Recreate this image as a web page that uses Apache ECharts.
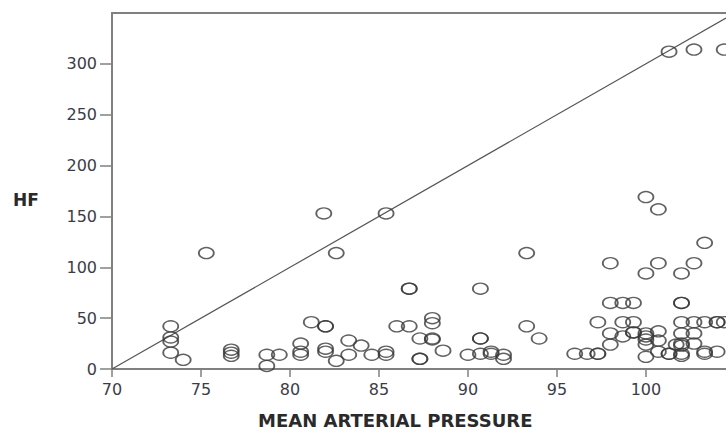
<!DOCTYPE html>
<html>
<head>
<meta charset="utf-8">
<script src="https://cdn.jsdelivr.net/npm/echarts@6/dist/echarts.min.js"></script>
<style>
  html, body { margin: 0; padding: 0; background: #fff; }
  #chart { width: 726px; height: 430px; }
</style>
</head>
<body>
<div id="chart"></div>
<script>
// mean arterial pressure (x) and HF (y)
const mapValues = [
  73.3, 73.3, 73.3, 73.3, 74.0, 75.3, 76.7, 76.7, 76.7, 78.7, 78.7, 79.4,
  80.6, 80.6, 80.6, 81.2, 81.9, 82.0, 82.0, 82.0, 82.0, 82.6, 82.6, 83.3,
  83.3, 84.0, 84.6, 85.4, 85.4, 85.4, 86.0, 86.7, 86.7, 86.7, 87.3, 87.3,
  87.3, 88.0, 88.0, 88.0, 88.0, 88.6, 90.0, 90.7, 90.7, 90.7, 90.7, 91.3,
  91.3, 92.0, 92.0, 93.3, 93.3, 94.0, 96.0, 96.7, 97.3, 97.3, 97.3, 98.0,
  98.0, 98.7, 99.3, 98.7, 99.3, 98.0, 98.0, 98.7, 99.3, 99.3, 100.0, 100.7,
  100.0, 100.7, 100.0, 100.0, 100.0, 100.0, 100.0, 100.7, 100.7, 100.7, 101.3, 101.3,
  101.7, 101.3, 102.0, 102.0, 102.0, 102.0, 102.0, 102.0, 102.0, 102.0, 102.0, 102.7,
  102.7, 102.7, 102.7, 102.7, 103.3, 103.3, 103.3, 103.3, 104.0, 104.0, 104.0, 104.4,
  104.4
];
const hfValues = [
  42, 31, 27, 16, 9, 114, 19, 16, 13, 14, 3, 14,
  25, 17, 14, 46, 153, 42, 42, 20, 17, 114, 8, 28,
  14, 23, 14, 153, 17, 14, 42, 42, 79, 79, 30, 10,
  10, 50, 45, 30, 29, 18, 14, 79, 30, 30, 15, 17,
  15, 14, 10, 114, 42, 30, 15, 15, 15, 15, 46, 104,
  65, 65, 65, 46, 46, 35, 24, 32, 36, 36, 169, 157,
  94, 104, 35, 32, 29, 24, 12, 37, 28, 17, 15, 15,
  24, 312, 65, 65, 94, 46, 35, 25, 23, 15, 13, 104,
  314, 46, 35, 25, 124, 46, 17, 15, 46, 46, 17, 314,
  46
];
// reference line (HF = 10 * (MAP - 70)), clipped at the right edge
const refLineX = [70, 104.5];
const refLineY = [0, 345];

const xTicks = [70, 75, 80, 85, 90, 95, 100];
const yTicks = [0, 50, 100, 150, 200, 250, 300];

let points = [];
for (let i = 0; i < mapValues.length; i++) {
  points.push([mapValues[i], hfValues[i]]);
}
let refLine = [];
for (let i = 0; i < refLineX.length; i++) {
  refLine.push([refLineX[i], refLineY[i]]);
}

const axisGrey = "#808080";
const labelColor = "#3c3c48";
const font = "DejaVu Sans";

let chart = echarts.init(document.getElementById("chart"), null, { renderer: "svg" });
let option = {
  backgroundColor: "#ffffff",
  animation: false,
  grid: { left: 112, right: 0, top: 13, bottom: 61 },
  xAxis: [
    {
      type: "value",
      min: 70,
      max: 104.5,
      interval: 5,
      axisLine: { show: true, lineStyle: { color: axisGrey, width: 2 } },
      axisTick: { show: true, length: 8, lineStyle: { color: axisGrey, width: 1.5 },
        customValues: xTicks },
      axisLabel: { color: labelColor, fontFamily: font, fontSize: 16, margin: 12,
        customValues: xTicks },
      splitLine: { show: false }
    },
    {
      type: "value",
      position: "top",
      min: 70,
      max: 104.5,
      axisLine: { show: true, lineStyle: { color: axisGrey, width: 2 } },
      axisTick: { show: false },
      axisLabel: { show: false },
      splitLine: { show: false }
    }
  ],
  yAxis: {
    type: "value",
    min: 0,
    max: 350,
    interval: 50,
    axisLine: { show: true, lineStyle: { color: axisGrey, width: 2 } },
    axisTick: { show: true, length: 12, lineStyle: { color: axisGrey, width: 1.5 },
      customValues: yTicks },
    axisLabel: { color: labelColor, fontFamily: font, fontSize: 16, margin: 15,
      customValues: yTicks },
    splitLine: { show: false }
  },
  graphic: [
    {
      type: "text",
      left: 13,
      top: 191,
      style: { text: "HF", fill: "#2a2a2a", font: "bold 17px 'DejaVu Sans'" }
    },
    {
      type: "text",
      left: 258,
      top: 411,
      style: { text: "MEAN ARTERIAL PRESSURE", fill: "#2a2a2a", font: "bold 18px 'DejaVu Sans'" }
    }
  ],
  series: [
    {
      type: "line",
      data: refLine,
      symbol: "none",
      lineStyle: { color: "#555555", width: 1.2 },
      z: 1
    },
    {
      type: "scatter",
      data: points,
      symbol: "circle",
      symbolSize: [15, 11],
      itemStyle: { color: "rgba(0,0,0,0)", borderColor: "#3a3a3a", borderWidth: 1.6 },
      z: 2
    }
  ]
};
chart.setOption(option);
</script>
</body>
</html>
